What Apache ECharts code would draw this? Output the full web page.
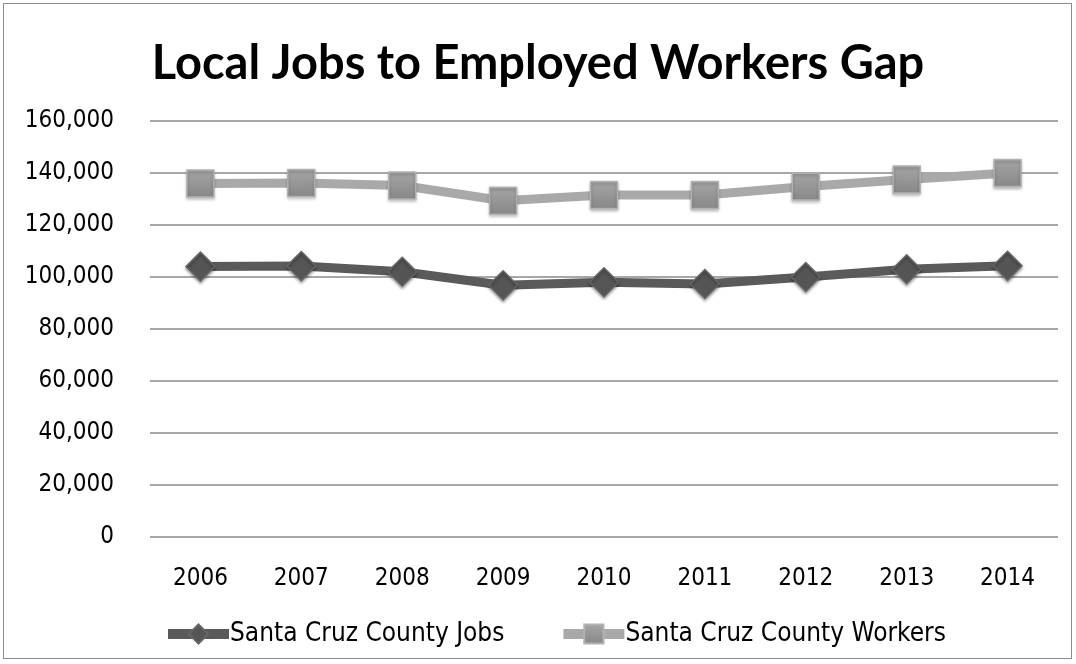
<!DOCTYPE html>
<html><head><meta charset="utf-8">
<script src="https://cdn.jsdelivr.net/npm/echarts@6/dist/echarts.min.js"></script>
<style>
html,body{margin:0;padding:0;background:#fff;}
#frame{position:absolute;left:3px;top:3px;width:1069px;height:656px;border:1px solid #8c8c8c;box-sizing:border-box;}
#c{position:absolute;left:0;top:0;width:1076px;height:664px;}
</style></head><body>
<div id="frame"></div>
<div id="c"></div>
<script>
const years = ['2006','2007','2008','2009','2010','2011','2012','2013','2014'];
const jobs = [104000, 104200, 102000, 96800, 98000, 97300, 100000, 103000, 104300];
const workers = [136000, 136200, 135200, 129300, 131500, 131500, 134800, 137500, 140000];
const yTicks = [0, 20000, 40000, 60000, 80000, 100000, 120000, 140000, 160000];

const font = "'Liberation Sans Narrow','DejaVu Sans Condensed','Liberation Sans',sans-serif";
const chart = echarts.init(document.getElementById('c'), null, {renderer:'canvas'});
chart.setOption({
  animation:false,
  backgroundColor:'transparent',
  title:{text:'Local Jobs to Employed Workers Gap', left:'center', top:35,
    textStyle:{fontFamily:"Lato,'Open Sans',sans-serif", fontWeight:'bold', fontSize:47, color:'#000'}},
  grid:{left:150, right:18, top:121, bottom:127},
  legend:{top:616, left:158, itemWidth:61, itemHeight:24, itemGap:54,
    textStyle:{fontFamily:font, fontSize:26, color:'#000', padding:[0,0,0,-4]},
    lineStyle:{width:10},
    data:['Santa Cruz County Jobs','Santa Cruz County Workers']},
  xAxis:{type:'category', data:years, boundaryGap:true,
    axisLine:{show:false}, axisTick:{show:false},
    axisLabel:{fontFamily:font, fontSize:24, color:'#000', margin:30}},
  yAxis:{type:'value', min:yTicks[0], max:yTicks[yTicks.length-1], interval:20000,
    axisLine:{show:false}, axisTick:{show:false},
    splitLine:{lineStyle:{color:'#8a8a8a', width:1.5}},
    axisLabel:{fontFamily:font, fontSize:24, color:'#000', margin:36,
      formatter:v=>v.toLocaleString('en-US')}},
  series:[
    {name:'Santa Cruz County Jobs', type:'line', data:jobs, symbol:'diamond', symbolSize:29,
      lineStyle:{color:'#5a5a5a', width:9},
      itemStyle:{color:'#555', borderColor:'#666', borderWidth:1.5,
        shadowBlur:3, shadowOffsetY:2, shadowColor:'rgba(0,0,0,0.35)'}},
    {name:'Santa Cruz County Workers', type:'line', data:workers, symbol:'rect', symbolSize:27,
      lineStyle:{color:'#a9a9a9', width:9},
      itemStyle:{color:new echarts.graphic.LinearGradient(0,0,0,1,[{offset:0,color:'#a6a6a6'},{offset:1,color:'#878787'}]),
        borderColor:'#b2b2b2', borderWidth:1.5,
        shadowBlur:3, shadowOffsetY:2, shadowColor:'rgba(0,0,0,0.25)'}}
  ]
});
</script></body></html>
